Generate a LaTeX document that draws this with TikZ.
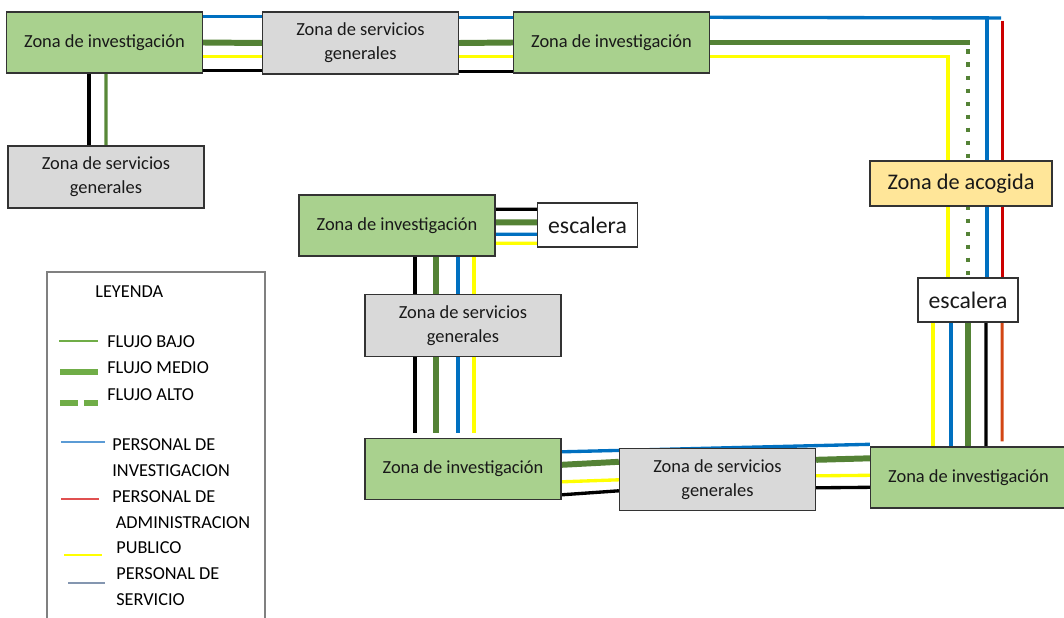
\documentclass[tikz,border=0pt]{standalone}
\usepackage{fontspec}
\setmainfont{Carlito}
\usetikzlibrary{calc, backgrounds}
\definecolor{zonaverde}{RGB}{169, 209, 142}
\definecolor{zonagris}{RGB}{217, 217, 217}
\definecolor{zonacrema}{RGB}{255, 230, 153}
\definecolor{flujoazul}{RGB}{0, 112, 192}
\definecolor{flujoverde}{RGB}{84, 130, 53}
\definecolor{flujoclaro}{RGB}{112, 173, 71}
\definecolor{flujoamarillo}{RGB}{255, 255, 0}
\definecolor{flujorojo}{RGB}{204, 0, 0}
\definecolor{flujonaranja}{RGB}{210, 70, 20}
\definecolor{leyazul}{RGB}{91, 155, 213}
\definecolor{leyrojo}{RGB}{224, 80, 80}
\definecolor{leygris}{RGB}{132, 150, 176}

\begin{document}
\begin{tikzpicture}[
    x=0.02cm, y=-0.02cm,
    % Estilos de las zonas
    zona/.style={
        rectangle, draw=black!80, line width=0.8pt,
        inner sep=0pt, align=center, text=black!90
    },
    invbox/.style={
        zona, fill=zonaverde, minimum width=3.92cm, minimum height=1.22cm,
        font=\fontsize{10.5}{13.6}\selectfont
    },
    servbox/.style={
        zona, fill=zonagris, minimum width=3.92cm, minimum height=1.24cm,
        font=\fontsize{10.5}{13.6}\selectfont
    },
    acogbox/.style={
        zona, fill=zonacrema, minimum width=3.64cm, minimum height=0.9cm,
        font=\fontsize{12.7}{15}\selectfont
    },
    escbox/.style={
        zona, fill=white, minimum width=2cm, minimum height=0.88cm,
        font=\fontsize{13.5}{16}\selectfont
    },
    leybox/.style={
        rectangle, draw=black!50, line width=0.7pt,
        minimum width=4.36cm, minimum height=7.06cm
    },
    leytext/.style={
        anchor=west, align=left, inner sep=0pt,
        font=\fontsize{10.4}{14.7}\selectfont
    },
    % Estilos de los flujos
    azul/.style={draw=flujoazul, line width=1.9pt},
    rojo/.style={draw=flujorojo, line width=1.7pt},
    naranja/.style={draw=flujonaranja, line width=1.7pt},
    amarillo/.style={draw=flujoamarillo, line width=1.9pt},
    negro/.style={draw=black, line width=1.9pt},
    bajo/.style={draw=flujoverde!85!flujoclaro, line width=1.8pt},
    medio/.style={draw=flujoverde, line width=3.4pt},
    alto/.style={draw=flujoverde, line width=2.8pt, dash pattern=on 2.8pt off 4.6pt}
]

    \useasboundingbox (0,0) rectangle (1064,618);

    % --- 1. Planta superior ---
    \node[invbox] (invA) at (104.5,42.5) {Zona de investigación};
    \node[servbox] (servA) at (360.5,43) {Zona de servicios\\generales};
    \node[invbox] (invB) at (611.5,42.5) {Zona de investigación};
    \node[servbox] (servB) at (106,177) {Zona de servicios\\generales};

    % --- 2. Acceso ---
    \node[acogbox] (acogida) at (961,183.5) {Zona de acogida};
    \node[escbox] (escDer) at (968,300) {escalera};

    % --- 3. Bloque central ---
    \node[invbox] (invC) at (397,225.5) {Zona de investigación};
    \node[escbox] (escMid) at (587.5,225) {escalera};
    \node[servbox] (servC) at (463,325.5) {Zona de servicios\\generales};
    \node[invbox] (invD) at (463,469) {Zona de investigación};
    \node[servbox] (servD) at (717.5,479.5) {Zona de servicios\\generales};
    \node[invbox] (invE) at (968.5,477.5) {Zona de investigación};

    \coordinate (azulFin) at (1001,18);
    \coordinate (rojoIni) at (1002,21);

    % --- 4. Flujos ---
    \begin{scope}[on background layer]
        % planta superior
        \draw[azul] ($(invA.north east)+(0,5)$) -- ($(servA.north west)+(0,5)$);
        \draw[medio] (invA.east) -- (servA.west);
        \draw[amarillo] ($(invA.north east)+(0,45)$) -- ($(servA.north west)+(0,45)$);
        \draw[negro] ($(invA.north east)+(0,59)$) -- ($(servA.north west)+(0,59)$);

        \draw[azul] ($(servA.north east)+(0,6)$) -- ($(invB.north west)+(0,6)$);
        \draw[medio] (servA.east) -- (invB.west);
        \draw[amarillo] ($(servA.north east)+(0,45)$) -- ($(invB.north west)+(0,45)$);
        \draw[negro] ($(servA.north east)+(0,60)$) -- ($(invB.north west)+(0,60)$);

        \draw[negro] ($(invA.south)+(-15.5,0)$) -- ($(servB.north)+(-17,0)$);
        \draw[bajo] ($(invA.south)+(1.5,0)$) -- (servB.north);

        % hacia la zona de acogida
        \draw[azul] ($(invB.north east)+(0,6)$) -- (azulFin);
        \draw[azul] ($(invB.north east)+(0,6)$) -| ($(escDer.north)+(19,0)$);
        \draw[rojo] (rojoIni) -- ($(escDer.north)+(34,0)$);
        \draw[medio] (invB.east) -- ($(escDer.north |- invB.east)+(2,0)$);
        \draw[alto] ($(escDer.north |- invB.east)+(0,7)$) -- (escDer.north);
        \draw[amarillo] ($(invB.north east)+(0,45)$) -| ($(escDer.north)+(-20,12)$);

        \draw[amarillo] ($(escDer.south)+(-35,0)$) -- ($(invE.north)+(-35.5,0)$);
        \draw[azul] ($(escDer.south)+(-17,0)$) -- ($(invE.north)+(-17.5,0)$);
        \draw[medio] (escDer.south) -- ($(invE.north)+(-0.5,0)$);
        \draw[negro] ($(escDer.south)+(18,0)$) -- ($(invE.north)+(17.5,0)$);
        \draw[naranja] ($(escDer.south)+(34,-3)$) -- ($(invE.north)+(33.5,-5)$);

        % bloque central
        \draw[negro] ($(invC.north east)+(0,15)$) -- ($(escMid.north west)+(0,7)$);
        \draw[medio] ($(invC.north east)+(0,28)$) -- ($(escMid.north west)+(0,20)$);
        \draw[azul] ($(invC.north east)+(0,40)$) -- ($(escMid.north west)+(0,32)$);
        \draw[amarillo] ($(invC.north east)+(0,49)$) -- ($(escMid.north west)+(0,41)$);

        \draw[negro] ($(invC.south)+(18,0)$) -- ($(servC.north)+(-48,0)$);
        \draw[medio] ($(invC.south)+(39,0)$) -- ($(servC.north)+(-27,0)$);
        \draw[azul] ($(invC.south)+(61,0)$) -- ($(servC.north)+(-5,0)$);
        \draw[amarillo] ($(invC.south)+(77,0)$) -- ($(servC.north)+(11,0)$);

        \draw[negro] ($(servC.south)+(-48,0)$) -- ($(invD.north)+(-48,-5)$);
        \draw[medio] ($(servC.south)+(-27,0)$) -- ($(invD.north)+(-27,-5)$);
        \draw[azul] ($(servC.south)+(-5,0)$) -- ($(invD.north)+(-5,-5)$);
        \draw[amarillo] ($(servC.south)+(11,0)$) -- ($(invD.north)+(11,-5)$);

        % planta inferior
        \draw[azul] ($(invD.north east)+(0,14)$) -- ($(invE.north west)+(0,-2)$);
        \draw[medio] ($(invD.north east)+(0,27)$) -- ($(servD.north west)+(0,14)$);
        \draw[amarillo] ($(invD.north east)+(0,44)$) -- ($(servD.north west)+(0,32)$);
        \draw[negro] ($(invD.north east)+(0,57)$) -- ($(servD.north west)+(0,43)$);
        \draw[medio] ($(servD.north east)+(0,12)$) -- ($(invE.north west)+(0,12)$);
        \draw[amarillo] ($(servD.north east)+(0,28)$) -- ($(invE.north west)+(0,29)$);
        \draw[negro] ($(servD.north east)+(0,40)$) -- ($(invE.north west)+(0,41)$);
    \end{scope}

    % --- 5. Leyenda ---
    \node[leybox] (leyenda) at (156,448.5) {};
    \node[leytext] (leyTitulo) at (95,292) {LEYENDA};
    \draw[draw=flujoclaro, line width=1.3pt] (59,341) -- (98,341);
    \node[leytext] (leyBajo) at (107,342) {FLUJO BAJO};
    \draw[draw=flujoclaro, line width=3pt] (60,372) -- (98,372);
    \node[leytext] (leyMedio) at (107,368) {FLUJO MEDIO};
    \draw[draw=flujoclaro, line width=3pt, dash pattern=on 10.2pt off 3.4pt] (60,403) -- (98,403);
    \node[leytext] (leyAlto) at (107,395) {FLUJO ALTO};
    \draw[draw=leyazul, line width=0.6pt] (61,442) -- (105,442);
    \node[leytext] (leyInv) at (112,458) {PERSONAL DE\\INVESTIGACION};
    \draw[draw=leyrojo, line width=0.6pt] (61,499) -- (99,499);
    \node[leytext] (leyAdm) at (112,510) {PERSONAL DE\\\hspace*{2pt}ADMINISTRACION};
    \draw[draw=flujoamarillo, line width=0.8pt] (64,555) -- (102,555);
    \node[leytext] (leyPub) at (116,548) {PUBLICO};
    \draw[draw=leygris, line width=0.8pt] (68,583) -- (105,583);
    \node[leytext] (leySer) at (116,586.5) {PERSONAL DE\\SERVICIO};

\end{tikzpicture}
\end{document}
